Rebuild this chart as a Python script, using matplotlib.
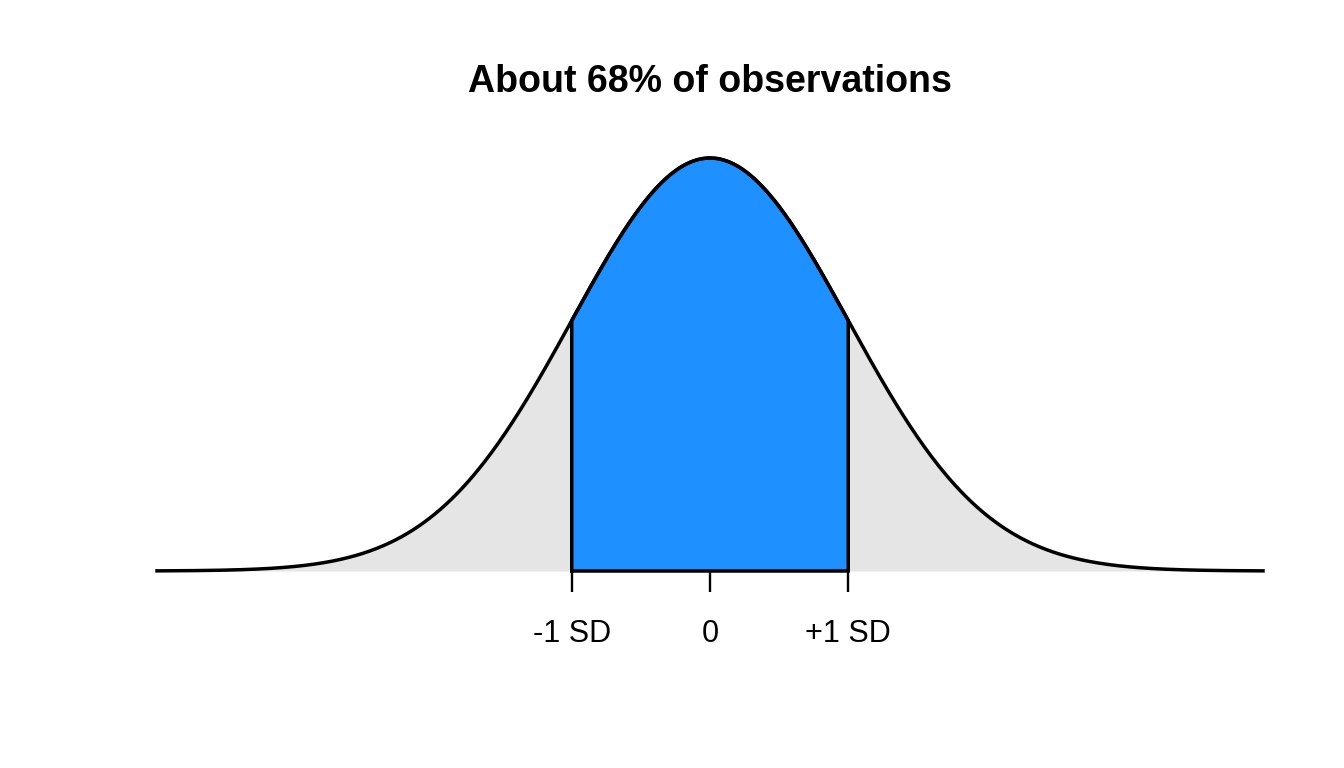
import numpy as np
import matplotlib
matplotlib.use("Agg")
import matplotlib.pyplot as plt

# Data: standard normal density, shaded within +/- 1 SD
mean = 0.0
sd = 1.0
x_range = [-4.0, 4.0]
shade_range = [-1.0, 1.0]
tick_positions = [-1, 0, 1]
tick_labels = ["-1 SD", "0", "+1 SD"]
title = "About 68% of observations"

plt.rcParams['font.family'] = ['Liberation Sans', 'DejaVu Sans']

def dnorm(x):
    return np.exp(-0.5 * ((x - mean) / sd) ** 2) / (sd * np.sqrt(2 * np.pi))

x = np.linspace(x_range[0], x_range[1], 801)
y = dnorm(x)
xs = np.linspace(shade_range[0], shade_range[1], 401)
ys = dnorm(xs)

W, H = 1344, 768
fig = plt.figure(figsize=(W / 100, H / 100), dpi=100)
ax = fig.add_axes([157 / W, (H - 571) / H, (1263 - 157) / W, (571 - 158) / H])

ax.fill_between(x, 0, y, color="#E5E5E5", linewidth=0)
ax.fill_between(xs, 0, ys, color="#1E90FF", linewidth=0)
# polygon border of shaded region
px = np.concatenate([[xs[0]], xs, [xs[-1]], [xs[0]]])
py = np.concatenate([[0], ys, [0], [0]])
ax.plot(px, py, color="black", lw=2.5, solid_joinstyle="miter", clip_on=False)
ax.plot(x, y, color="black", lw=2.5, clip_on=False)

ax.set_xlim(x_range)
ax.set_ylim(0, dnorm(mean))
for s in ax.spines.values():
    s.set_visible(False)
ax.set_yticks([])
ax.set_xticks(tick_positions)
ax.set_xticklabels(tick_labels, fontsize=22)
ax.tick_params(axis="x", length=15, width=1.7, pad=19.5, color="black")

fig.text((157 + 1263) / 2 / W, 1 - 82 / H, title, ha="center", va="center",
         fontsize=27, fontweight="bold")

fig.savefig("out.png", dpi=100, facecolor="white")
